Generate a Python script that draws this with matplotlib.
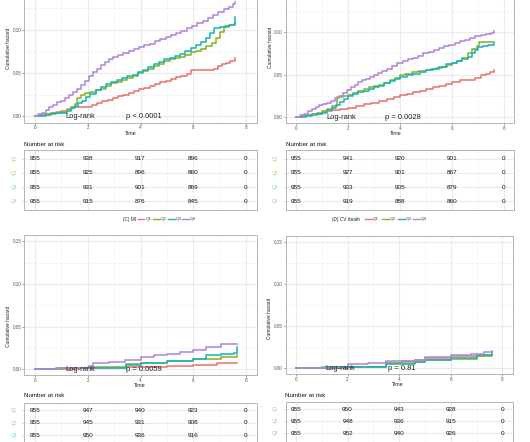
import matplotlib
matplotlib.use('Agg')
import matplotlib.pyplot as plt
from matplotlib.lines import Line2D

W, H = 530, 442
plt.rcParams['font.family'] = ['Liberation Sans', 'DejaVu Sans']

# ---------------- data ----------------
groups = ['Q1', 'Q2', 'Q3', 'Q4']
time_ticks = [0, 2, 4, 6, 8]
haz_ticks = [0.0, 0.05, 0.10, 0.15]
haz_tick_labels = ['0.00', '0.05', '0.10', '0.15']

# top-left panel
tl_q1_t = [0, 0.2, 0.4, 0.6, 0.8, 1.0, 1.2, 1.4, 2.15, 2.35, 2.55, 2.75, 2.95, 3.15, 3.35, 3.55, 3.75, 3.95, 4.15, 4.35, 4.55, 4.75, 4.95, 5.15, 5.35, 5.55, 5.75, 5.93, 6.8, 6.95, 7.1, 7.25, 7.4, 7.6]
tl_q1_v = [0, 0.001, 0.002, 0.003, 0.005, 0.006, 0.008, 0.0108, 0.013, 0.015, 0.017, 0.019, 0.021, 0.023, 0.025, 0.027, 0.029, 0.031, 0.033, 0.035, 0.037, 0.039, 0.041, 0.043, 0.045, 0.047, 0.049, 0.053, 0.055, 0.058, 0.060, 0.062, 0.064, 0.067]
tl_q2_t = [0, 0.2, 0.4, 0.6, 0.8, 1.0, 1.2, 1.35, 1.5, 1.6, 1.75, 1.9, 2.1, 2.3, 2.5, 2.7, 2.9, 3.1, 3.3, 3.5, 3.7, 3.9, 4.1, 4.3, 4.5, 4.7, 4.9, 5.1, 5.3, 5.5, 5.7, 5.9, 6.1, 6.3, 6.5, 6.7, 6.85, 7.0, 7.15, 7.35, 7.6]
tl_q2_v = [0, 0.001, 0.002, 0.003, 0.004, 0.005, 0.007, 0.010, 0.014, 0.021, 0.024, 0.027, 0.028, 0.030, 0.032, 0.035, 0.038, 0.040, 0.042, 0.044, 0.047, 0.050, 0.052, 0.055, 0.058, 0.061, 0.064, 0.066, 0.067, 0.069, 0.071, 0.074, 0.076, 0.078, 0.081, 0.085, 0.091, 0.098, 0.104, 0.106, 0.108]
tl_q3_t = [0, 0.2, 0.4, 0.6, 0.8, 1.0, 1.2, 1.35, 1.5, 1.65, 1.8, 1.95, 2.1, 2.3, 2.5, 2.7, 2.9, 3.1, 3.3, 3.5, 3.7, 3.9, 4.1, 4.3, 4.5, 4.7, 4.9, 5.1, 5.3, 5.5, 5.7, 5.9, 6.1, 6.3, 6.5, 6.65, 6.8, 7.0, 7.2, 7.4, 7.55, 7.6]
tl_q3_v = [0, 0.0, 0.001, 0.002, 0.003, 0.004, 0.006, 0.009, 0.012, 0.015, 0.018, 0.022, 0.026, 0.030, 0.034, 0.037, 0.040, 0.042, 0.044, 0.046, 0.048, 0.051, 0.054, 0.057, 0.060, 0.063, 0.066, 0.068, 0.070, 0.072, 0.075, 0.079, 0.082, 0.086, 0.091, 0.097, 0.102, 0.104, 0.105, 0.106, 0.107, 0.1156]
tl_q4_t = [0, 0.1, 0.25, 0.4, 0.55, 0.7, 0.85, 1.0, 1.15, 1.3, 1.45, 1.6, 1.75, 1.9, 2.05, 2.2, 2.35, 2.5, 2.65, 2.8, 2.95, 3.15, 3.35, 3.55, 3.75, 3.95, 4.15, 4.35, 4.55, 4.75, 4.95, 5.15, 5.35, 5.55, 5.75, 5.95, 6.15, 6.35, 6.55, 6.75, 6.95, 7.15, 7.35, 7.5, 7.6]
tl_q4_v = [0, 0.002, 0.004, 0.007, 0.010, 0.013, 0.016, 0.018, 0.021, 0.024, 0.028, 0.032, 0.036, 0.041, 0.047, 0.051, 0.055, 0.059, 0.063, 0.066, 0.069, 0.071, 0.073, 0.075, 0.078, 0.080, 0.082, 0.084, 0.087, 0.089, 0.092, 0.094, 0.097, 0.099, 0.102, 0.105, 0.108, 0.111, 0.114, 0.117, 0.121, 0.124, 0.127, 0.130, 0.133]
tl_risk_q1 = [955, 938, 917, 896, 0]
tl_risk_q2 = [955, 925, 896, 860, 0]
tl_risk_q3 = [955, 931, 901, 869, 0]
tl_risk_q4 = [955, 915, 876, 845, 0]

# top-right panel
tr_q1_t = [0, 0.2, 0.4, 0.6, 0.8, 1.0, 1.2, 1.4, 1.7, 2.0, 2.3, 2.6, 2.9, 3.2, 3.5, 3.75, 4.0, 4.25, 4.5, 4.75, 5.0, 5.25, 5.5, 5.75, 6.0, 6.3, 6.6, 6.9, 7.1, 7.3, 7.45, 7.6]
tr_q1_v = [0, 0.001, 0.002, 0.003, 0.004, 0.006, 0.007, 0.0087, 0.010, 0.011, 0.013, 0.015, 0.017, 0.019, 0.021, 0.023, 0.0256, 0.027, 0.029, 0.031, 0.0335, 0.035, 0.037, 0.039, 0.0413, 0.043, 0.044, 0.046, 0.049, 0.051, 0.053, 0.055]
tr_q2_t = [0, 0.2, 0.4, 0.6, 0.8, 1.0, 1.2, 1.38, 1.57, 1.8, 2.0, 2.2, 2.4, 2.6, 2.8, 3.0, 3.2, 3.4, 3.6, 3.8, 4.0, 4.2, 4.45, 4.7, 5.0, 5.2, 5.4, 5.6, 5.8, 6.0, 6.2, 6.4, 6.6, 6.78, 6.95, 7.05, 7.6]
tr_q2_v = [0, 0.001, 0.002, 0.003, 0.005, 0.007, 0.010, 0.0126, 0.0236, 0.025, 0.0256, 0.028, 0.031, 0.033, 0.035, 0.036, 0.038, 0.040, 0.043, 0.046, 0.049, 0.051, 0.053, 0.054, 0.055, 0.056, 0.058, 0.059, 0.061, 0.063, 0.066, 0.070, 0.075, 0.0795, 0.084, 0.0886, 0.0886]
tr_q3_t = [0, 0.2, 0.4, 0.6, 0.8, 1.0, 1.2, 1.38, 1.55, 1.7, 1.85, 2.0, 2.2, 2.4, 2.6, 2.8, 3.0, 3.2, 3.4, 3.6, 3.8, 4.0, 4.25, 4.5, 4.75, 5.0, 5.25, 5.5, 5.75, 6.0, 6.2, 6.4, 6.6, 6.78, 6.9, 7.0, 7.2, 7.4, 7.6]
tr_q3_v = [0, 0.0, 0.001, 0.002, 0.003, 0.005, 0.008, 0.011, 0.014, 0.018, 0.021, 0.0244, 0.027, 0.029, 0.031, 0.033, 0.035, 0.037, 0.040, 0.042, 0.045, 0.047, 0.049, 0.051, 0.053, 0.055, 0.057, 0.059, 0.062, 0.064, 0.066, 0.068, 0.071, 0.075, 0.079, 0.0827, 0.084, 0.085, 0.0866]
tr_q4_t = [0, 0.15, 0.3, 0.45, 0.6, 0.75, 0.9, 1.05, 1.2, 1.35, 1.5, 1.65, 1.8, 1.95, 2.1, 2.25, 2.4, 2.55, 2.7, 2.85, 3.0, 3.15, 3.3, 3.5, 3.7, 3.9, 4.1, 4.3, 4.5, 4.7, 4.9, 5.1, 5.3, 5.5, 5.7, 5.9, 6.1, 6.3, 6.5, 6.7, 6.9, 7.1, 7.3, 7.5, 7.6]
tr_q4_v = [0, 0.002, 0.004, 0.007, 0.010, 0.012, 0.014, 0.015, 0.017, 0.019, 0.022, 0.025, 0.028, 0.032, 0.035, 0.038, 0.041, 0.043, 0.045, 0.047, 0.049, 0.052, 0.054, 0.057, 0.060, 0.063, 0.066, 0.068, 0.070, 0.072, 0.075, 0.077, 0.079, 0.081, 0.083, 0.085, 0.087, 0.089, 0.091, 0.093, 0.095, 0.097, 0.098, 0.099, 0.1016]
tr_risk_q1 = [955, 941, 920, 901, 0]
tr_risk_q2 = [955, 927, 901, 867, 0]
tr_risk_q3 = [955, 933, 905, 879, 0]
tr_risk_q4 = [955, 919, 888, 860, 0]

# bottom-left panel (C) MI
bl_q1_t = [0, 1.5, 3.46, 5.0, 6.0, 6.9, 7.67]
bl_q1_v = [0, 0.001, 0.0027, 0.004, 0.0047, 0.0075, 0.0075]
bl_q2_t = [0, 1.0, 2.0, 3.46, 4.0, 5.0, 6.0, 7.05, 7.67]
bl_q2_v = [0, 0.001, 0.0027, 0.0055, 0.0075, 0.0094, 0.0114, 0.0137, 0.0165]
bl_q3_t = [0, 0.8, 2.0, 3.46, 4.0, 5.0, 6.0, 6.5, 7.05, 7.55, 7.67]
bl_q3_v = [0, 0.0008, 0.0016, 0.0047, 0.0067, 0.0094, 0.0114, 0.0165, 0.0176, 0.019, 0.026]
bl_q4_t = [0, 0.9, 2.05, 2.2, 2.8, 3.4, 4.0, 4.5, 5.0, 5.5, 6.0, 6.5, 7.05, 7.67]
bl_q4_v = [0, 0.0016, 0.004, 0.0067, 0.0086, 0.011, 0.0137, 0.016, 0.018, 0.020, 0.022, 0.026, 0.029, 0.029]
bl_risk_q1 = [955, 947, 940, 923, 0]
bl_risk_q2 = [955, 945, 931, 908, 0]
bl_risk_q3 = [955, 950, 936, 916, 0]

# bottom-right panel (D) CV death
br_q1_t = [0, 1.0, 2.0, 3.5, 4.1, 4.6, 5.0, 6.0, 7.3, 7.6]
br_q1_v = [0, 0.0004, 0.0016, 0.0063, 0.0086, 0.009, 0.0125, 0.014, 0.016, 0.019]
br_q2_t = [0, 1.0, 2.0, 3.5, 4.6, 5.0, 6.0, 7.0, 7.6]
br_q2_v = [0, 0.0008, 0.0012, 0.0055, 0.0067, 0.0094, 0.011, 0.014, 0.016]
br_q3_t = [0, 1.15, 2.0, 3.5, 4.6, 5.0, 6.0, 7.0, 7.6]
br_q3_v = [0, 0.0008, 0.0016, 0.0047, 0.0067, 0.010, 0.012, 0.0153, 0.017]
br_q4_t = [0, 0.8, 2.0, 2.8, 3.5, 4.6, 5.0, 6.0, 6.8, 7.3, 7.6]
br_q4_v = [0, 0.0004, 0.0047, 0.0063, 0.0082, 0.010, 0.0133, 0.0153, 0.017, 0.019, 0.020]
br_risk_q1 = [955, 950, 943, 928, 0]
br_risk_q2 = [955, 948, 936, 915, 0]
br_risk_q3 = [955, 952, 940, 926, 0]

p_values = ['p < 0.0001', 'p = 0.0028', 'p = 0.0059', 'p = 0.81']
legend_titles = ['(C) MI', '(D) CV death']

# ---------------- style ----------------
colors = ['#E8776D', '#8DB12A', '#1DB5BA', '#B287DA']
label_colors = ['#E9A59F', '#B4C77A', '#7FCFD2', '#BFB2CC']
grid_major = '#EBEBEB'
grid_minor = '#F4F4F4'
frame_col = '#B5B5B5'
tick_col = '#555555'

fig = plt.figure(figsize=(W / 100, H / 100), dpi=100)


def rect(l, t, r, b):
    return [l / W, 1 - b / H, (r - l) / W, (b - t) / H]


def ftext(x, y, s, **kw):
    fig.text(x / W, 1 - y / H, s, **kw)


def base_style(ax):
    ax.set_facecolor('white')
    for s in ax.spines.values():
        s.set_color(frame_col)
        s.set_linewidth(0.7)
    ax.set_axisbelow(True)


def plot_panel(box, curves, p_text, n_ylabels=4):
    ax = fig.add_axes(rect(*box))
    base_style(ax)
    ax.set_xlim(-0.4, 8.4)
    ax.set_ylim(-0.0075, 0.1575)
    for x in [1, 3, 5, 7]:
        ax.axvline(x, color=grid_minor, lw=0.5, zorder=0)
    for y in [0.025, 0.075, 0.125]:
        ax.axhline(y, color=grid_minor, lw=0.5, zorder=0)
    for x in time_ticks:
        ax.axvline(x, color=grid_major, lw=0.8, zorder=0)
    for y in haz_ticks:
        ax.axhline(y, color=grid_major, lw=0.8, zorder=0)
    for (t, v), c in zip(curves, colors):
        ax.step(t, v, where='post', color=c, lw=1.15, zorder=2)
    ax.set_xticks(time_ticks)
    ax.set_xticklabels([str(x) for x in time_ticks])
    # only the tick labels that fall inside the (cropped) picture
    ax.set_yticks(haz_ticks[:n_ylabels])
    ax.set_yticklabels(haz_tick_labels[:n_ylabels])
    ax.tick_params(labelsize=3.3, colors=tick_col, length=1.2, width=0.4, pad=0.9)
    ax.text(1.73, 0.0, 'Log-rank', ha='center', va='center', fontsize=5.4, color='#222222', zorder=3)
    ax.text(4.12, 0.0, p_text, ha='center', va='center', fontsize=5.4, color='#222222', zorder=3)
    return ax


def risk_table(box, rows, n_total=4):
    ax = fig.add_axes(rect(*box))
    base_style(ax)
    ax.set_xlim(-0.4, 8.4)
    ax.set_ylim(n_total + 0.6, 0.4)
    for x in [1, 3, 5, 7]:
        ax.axvline(x, color=grid_minor, lw=0.5, zorder=0)
    for x in time_ticks:
        ax.axvline(x, color=grid_major, lw=0.8, zorder=0)
    for i in range(1, n_total + 1):
        ax.axhline(i, color=grid_major, lw=0.8, zorder=0)
    for i, row in enumerate(rows):
        for x, n in zip(time_ticks, row):
            ax.text(x, i + 1, str(n), ha='center', va='center', fontsize=4.6, color='#111111')
    ax.set_xticks([])
    n_rows = len(rows)
    ax.set_yticks(range(1, n_rows + 1))
    ax.set_yticklabels(groups[:n_rows])
    ax.tick_params(axis='y', labelsize=3.3, length=1.5, width=0.4, colors=frame_col, pad=4)
    for lab, c in zip(ax.get_yticklabels(), label_colors):
        lab.set_color(c)
    return ax


# panels
plot_panel((24.4, -19.5, 256.6, 122.5),
           [(tl_q1_t, tl_q1_v), (tl_q2_t, tl_q2_v), (tl_q3_t, tl_q3_v), (tl_q4_t, tl_q4_v)], p_values[0], 3)
plot_panel((285.6, -16.9, 514.4, 123.4),
           [(tr_q1_t, tr_q1_v), (tr_q2_t, tr_q2_v), (tr_q3_t, tr_q3_v), (tr_q4_t, tr_q4_v)], p_values[1], 3)
plot_panel((24.4, 235.1, 256.6, 375.4),
           [(bl_q1_t, bl_q1_v), (bl_q2_t, bl_q2_v), (bl_q3_t, bl_q3_v), (bl_q4_t, bl_q4_v)], p_values[2])
plot_panel((285.7, 236.0, 512.6, 374.3),
           [(br_q1_t, br_q1_v), (br_q2_t, br_q2_v), (br_q3_t, br_q3_v), (br_q4_t, br_q4_v)], p_values[3])

# risk tables
risk_table((24.4, 150, 256.6, 210), [tl_risk_q1, tl_risk_q2, tl_risk_q3, tl_risk_q4])
risk_table((285.6, 150, 514.4, 210), [tr_risk_q1, tr_risk_q2, tr_risk_q3, tr_risk_q4])
risk_table((24.4, 403, 256.6, 454.7), [bl_risk_q1, bl_risk_q2, bl_risk_q3])
risk_table((285.7, 401.7, 512.6, 453), [br_risk_q1, br_risk_q2, br_risk_q3])

# axis titles
for x, y in [(9.0, 48.5), (271.0, 47.5), (9.0, 326), (269.5, 318)]:
    ftext(x, y, 'Cumulative hazard', rotation=90, ha='center', va='center', fontsize=3.5, color='#222222')
for x, y in [(131, 133.5), (396, 133.5), (140, 385.5), (398, 385)]:
    ftext(x, y, 'Time', ha='center', va='center', fontsize=3.8, color='#222222')
for x, y in [(24, 144.3), (285.7, 144.3), (24, 395.7), (285, 395.7)]:
    ftext(x, y, 'Number at risk', ha='left', va='center', fontsize=4.5, color='#111111')


# legend rows
def legend_row(title, title_x, line_xs, label_xs, y):
    ftext(title_x, y, title, ha='left', va='center', fontsize=3.4, color='#222222')
    for lx, tx, c, g in zip(line_xs, label_xs, colors, groups):
        fig.add_artist(Line2D([lx / W, (lx + 6.5) / W], [1 - y / H, 1 - y / H], color=c, lw=1.0))
        ftext(tx, y, g, ha='left', va='center', fontsize=3.2, color='#444444')


legend_row(legend_titles[0], 123.3, [137.5, 153, 168, 182], [146, 161, 176, 189.5], 219.3)
legend_row(legend_titles[1], 331.7, [365, 382, 398, 413], [373, 390, 406, 421], 219.3)

fig.savefig('out.png', dpi=100)
